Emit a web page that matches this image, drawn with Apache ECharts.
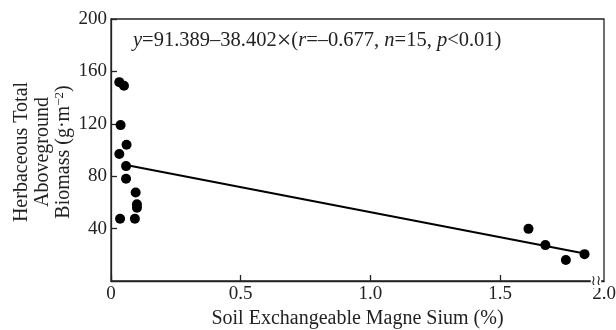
<!DOCTYPE html>
<html><head><meta charset="utf-8">
<script src="https://cdn.jsdelivr.net/npm/echarts@6/dist/echarts.min.js"></script>
<style>html,body{margin:0;padding:0;background:#fff}#c{width:616px;height:330px}</style>
</head><body><div id="c"></div>
<script>
const magnesium = [0.032, 0.050, 0.037, 0.060, 0.032, 0.058, 0.058, 0.095, 0.100, 0.100, 0.035, 0.092, 1.609, 1.674, 1.753, 1.825];
const biomass   = [151.8, 149.0, 119.0, 104.0, 97.0, 87.7, 78.0, 67.5, 58.5, 56.0, 47.5, 47.5, 39.8, 27.4, 16.0, 20.5];
const fitX = [0.058, 1.825];
const fitY = [88.5, 21.0];
const xTickValues = [0, 0.5, 1.0, 1.5];
const xLabelValues = [0, 0.5, 1.0, 1.5, 1.9];
const xLabelTexts = ['0', '0.5', '1.0', '1.5', '2.0'];

const font = '"Liberation Serif", "Times New Roman", serif';
const ink = '#222';
const chart = echarts.init(document.getElementById('c'));
chart.setOption({
  animation: false,
  grid: {left: 111, right: 12, top: 19, bottom: 49, show: true, borderColor: ink, borderWidth: 1.3,
         containLabel: false, outerBoundsMode: 'none'},
  xAxis: {
    type: 'value', min: 0, max: 1.9,
    axisLine: {lineStyle: {color: ink, width: 1.3}},
    axisTick: {inside: true, length: 6, customValues: xTickValues, lineStyle: {color: ink, width: 1.3}},
    axisLabel: {customValues: xLabelValues, color: ink, fontFamily: font, fontSize: 19, margin: 4,
      formatter: v => xLabelTexts[xLabelValues.indexOf(v)] ?? ''},
    splitLine: {show: false},
    name: 'Soil Exchangeable Magne Sium (%)', nameLocation: 'middle', nameGap: 28,
    nameTextStyle: {color: ink, fontFamily: font, fontSize: 20}
  },
  yAxis: {
    type: 'value', min: 0, max: 200, interval: 40,
    axisLine: {lineStyle: {color: ink, width: 1.3}},
    axisTick: {inside: true, length: 6, lineStyle: {color: ink, width: 1.3}},
    axisLabel: {showMinLabel: false, color: ink, fontFamily: font, fontSize: 19, margin: 4},
    splitLine: {show: false}
  },
  graphic: [
    {type: 'text', x: 43, y: 152, rotation: Math.PI / 2, style: {
      text: '{n|Herbaceous Total}\n{n|Aboveground}\n{n|Biomass (g·m}{s|−2}{n|)}',
      align: 'center', verticalAlign: 'middle', fill: ink, font: '20px ' + font, lineHeight: 21,
      rich: {n: {fontSize: 20, fontFamily: font, fill: ink, lineHeight: 21},
             s: {fontSize: 13, fontFamily: font, fill: ink, verticalAlign: 'top', lineHeight: 21, padding: [0,0,8,0]}}
    }},
    {type: 'text', x: 133, y: 41, style: {
      text: '{i|y}{n|=91.389–38.402}{x|×}{n|(}{i|r}{n|=–0.677, }{i|n}{n|=15, }{i|p}{n|<0.01)}',
      verticalAlign: 'middle', fill: ink,
      rich: {n: {fontSize: 20.5, fontFamily: font, fill: ink},
             x: {fontSize: 26, fontFamily: font, fill: ink},
             i: {fontSize: 20.5, fontFamily: font, fontStyle: 'italic', fill: ink}}
    }},
    {type: 'text', x: 596, y: 281, z: 100, style: {
      text: '≀≀', align: 'center', verticalAlign: 'middle', fill: ink, font: '14px "DejaVu Sans"',
      backgroundColor: '#fff'
    }}
  ],
  series: [
    {type: 'scatter', data: magnesium.map((x, i) => [x, biomass[i]]), symbolSize: 10,
     itemStyle: {color: '#000', opacity: 1}},
    {type: 'line', data: fitX.map((x, i) => [x, fitY[i]]), symbol: 'none',
     lineStyle: {color: '#000', width: 2}}
  ]
});
</script></body></html>
